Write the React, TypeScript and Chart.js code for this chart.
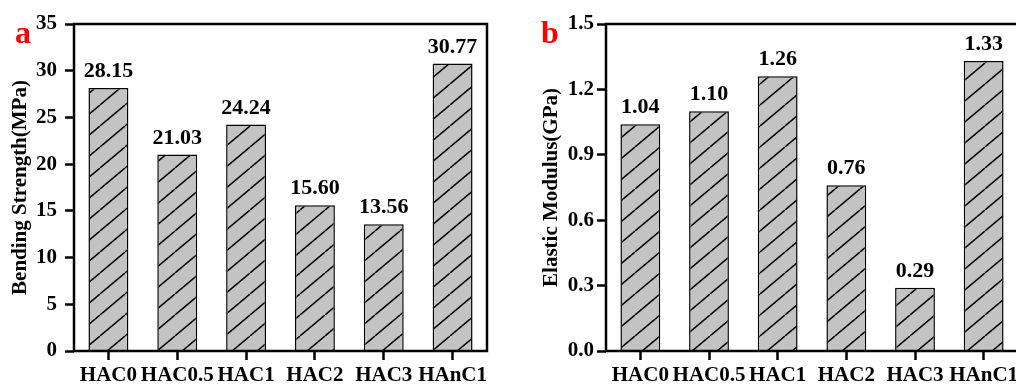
import React, { useEffect, useRef } from 'react';
import { Chart, registerables } from 'chart.js';

Chart.register(...registerables);

const categories = ['HAC0', 'HAC0.5', 'HAC1', 'HAC2', 'HAC3', 'HAnC1'];
const bendingStrength = [28.15, 21.03, 24.24, 15.6, 13.56, 30.77];
const elasticModulus = [1.04, 1.1, 1.26, 0.76, 0.29, 1.33];
const bendingAxis = { min: 0, max: 35, step: 5, decimals: 0 };
const modulusAxis = { min: 0, max: 1.5, step: 0.3, decimals: 1 };
const bendingTitle = 'Bending Strength(MPa)';
const modulusTitle = 'Elastic Modulus(GPa)';

const FONT = '"Liberation Serif", "Times New Roman", serif';

function makePattern(ctx: CanvasRenderingContext2D) {
  const W = 25;
  const H = 21;
  const c = document.createElement('canvas');
  c.width = W;
  c.height = H;
  const g = c.getContext('2d')!;
  g.fillStyle = '#c3c3c3';
  g.fillRect(0, 0, W, H);
  g.strokeStyle = '#000';
  g.lineWidth = 1.5;
  g.beginPath();
  for (const dx of [-W, 0, W]) {
    g.moveTo(dx, H);
    g.lineTo(dx + W, 0);
  }
  g.stroke();
  return ctx.createPattern(c, 'repeat')!;
}

const decorPlugin = {
  id: 'decor',
  afterDatasetsDraw(chart: any, _args: any, opts: any) {
    const ctx = chart.ctx as CanvasRenderingContext2D;
    const meta = chart.getDatasetMeta(0);
    const data = chart.data.datasets[0].data as number[];
    ctx.save();
    ctx.font = `bold 22px ${FONT}`;
    ctx.fillStyle = '#000';
    ctx.textAlign = 'center';
    ctx.textBaseline = 'alphabetic';
    meta.data.forEach((bar: any, i: number) => {
      ctx.fillText(data[i].toFixed(2), bar.x, bar.y - 11);
    });
    const { left, top, right, bottom } = chart.chartArea;
    ctx.strokeStyle = '#000';
    ctx.lineWidth = 2.5;
    ctx.strokeRect(left, top, right - left, bottom - top);
    ctx.fillStyle = '#ff0000';
    ctx.font = `bold 32px ${FONT}`;
    ctx.textAlign = 'left';
    ctx.fillText(opts.letter, opts.lx, opts.ly);
    ctx.restore();
  },
};

type PanelProps = {
  values: number[];
  axis: { min: number; max: number; step: number; decimals: number };
  title: string;
  letter: string;
  letterX: number;
  axisWidth: number;
  titlePad: number;
  tickPad: number;
  width: number;
  rightPad: number;
  left: number;
};

function Panel(p: PanelProps) {
  const ref = useRef<HTMLCanvasElement>(null);
  useEffect(() => {
    const canvas = ref.current!;
    const ctx = canvas.getContext('2d')!;
    const pattern = makePattern(ctx);
    const chart = new Chart(canvas, {
      type: 'bar',
      data: {
        labels: categories,
        datasets: [
          {
            data: p.values,
            backgroundColor: pattern,
            borderColor: '#000',
            borderWidth: 1.5,
            borderSkipped: 'start',
            barPercentage: 0.58,
            categoryPercentage: 1,
          },
        ],
      },
      options: {
        responsive: false,
        animation: false,
        devicePixelRatio: 1,
        layout: { padding: { left: 0, top: 24, right: p.rightPad, bottom: 0 } },
        plugins: {
          legend: { display: false },
          tooltip: { enabled: false },
          decor: { letter: p.letter, lx: p.letterX, ly: 43 },
        } as any,
        scales: {
          x: {
            grid: {
              display: true,
              offset: false,
              drawOnChartArea: false,
              drawTicks: true,
              tickLength: 9,
              tickWidth: 2.5,
              tickColor: '#000',
            },
            border: { display: false },
            ticks: {
              color: '#000',
              font: { family: FONT, size: 21, weight: 'bold' },
              padding: 3,
              autoSkip: false,
              maxRotation: 0,
            },
            afterFit: (s: any) => {
              s.height = 34;
            },
          },
          y: {
            min: p.axis.min,
            max: p.axis.max,
            grid: {
              display: true,
              drawOnChartArea: false,
              drawTicks: true,
              tickLength: 9,
              tickWidth: 2.5,
              tickColor: '#000',
            },
            border: { display: false },
            ticks: {
              stepSize: p.axis.step,
              color: '#000',
              font: { family: FONT, size: 21, weight: 'bold' },
              padding: p.tickPad,
              callback: (v: any) => Number(v).toFixed(p.axis.decimals),
            },
            title: {
              display: true,
              text: p.title,
              color: '#000',
              font: { family: FONT, size: 21, weight: 'bold' },
              padding: { top: p.titlePad, bottom: 0 },
            },
            afterFit: (s: any) => {
              s.width = p.axisWidth;
            },
          },
        },
      },
      plugins: [decorPlugin],
    });
    return () => chart.destroy();
  }, []);
  return (
    <canvas
      ref={ref}
      width={p.width}
      height={385}
      style={{ position: 'absolute', left: p.left, top: 0, width: p.width, height: 385 }}
    />
  );
}

export default function App() {
  return (
    <div
      style={{
        position: 'fixed',
        left: 0,
        top: 0,
        width: 1016,
        height: 385,
        overflow: 'hidden',
        background: '#fff',
      }}
    >
      <Panel
        values={bendingStrength}
        axis={bendingAxis}
        title={bendingTitle}
        letter="a"
        letterX={15}
        axisWidth={74}
        titlePad={8}
        tickPad={8}
        width={500}
        rightPad={13}
        left={0}
      />
      <Panel
        values={elasticModulus}
        axis={modulusAxis}
        title={modulusTitle}
        letter="b"
        letterX={31}
        axisWidth={96}
        titlePad={29}
        tickPad={3}
        width={520}
        rightPad={12}
        left={510}
      />
    </div>
  );
}
